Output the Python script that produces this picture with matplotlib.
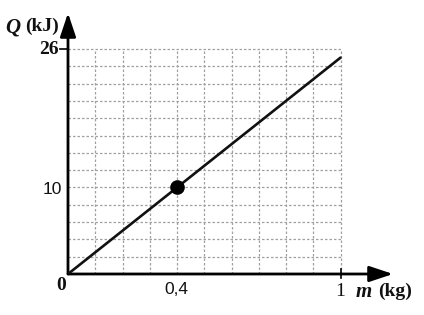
import matplotlib
matplotlib.use("Agg")
import matplotlib.pyplot as plt
import numpy as np

# ---- data ----
m_line = [0.0, 1.0]          # kg
Q_line = [0.0, 25.0]         # kJ
m_point = [0.4]
Q_point = [10.0]
x_grid = [0.1, 0.2, 0.3, 0.4, 0.5, 0.6, 0.7, 0.8, 0.9, 1.0]
y_grid = [2, 4, 6, 8, 10, 12, 14, 16, 18, 20, 22, 24, 26]
x_max_grid = 1.0
y_max_grid = 26

W, H = 424, 315
fig = plt.figure(figsize=(W / 100, H / 100), dpi=100)
fig.patch.set_facecolor("white")

# axes geometry (pixels): origin (68,274), arrow tips at x=393, y=13
ox, oy = 68, 274
px_per_x = 272.5
px_per_y = 225 / 26
xtip, ytip = 393, 13
ax = fig.add_axes([ox / W, (H - oy) / H, (xtip - ox) / W, (oy - ytip) / H])
ax.set_xlim(0, (xtip - ox) / px_per_x)
ax.set_ylim(0, (oy - ytip) / px_per_y)
ax.axis("off")

gcol = "#a0a0a0"
gls = (0, (2.0, 1.6))
ax.vlines(x_grid, 0, y_max_grid, colors=gcol, linestyles=gls, lw=0.9, zorder=1)
ax.hlines(y_grid, 0, x_max_grid, colors=gcol, linestyles=gls, lw=0.9, zorder=1)

# axes with arrows
xl = ax.get_xlim()[1]
yl = ax.get_ylim()[1]
ax.annotate("", xy=(xl, 0), xytext=(0, 0),
            arrowprops=dict(arrowstyle="-|>,head_length=0.9,head_width=0.3",
                            lw=2.0, color="black",
                            mutation_scale=16, shrinkA=0, shrinkB=0),
            annotation_clip=False, zorder=3)
ax.annotate("", xy=(0, yl), xytext=(0, 0),
            arrowprops=dict(arrowstyle="-|>,head_length=0.9,head_width=0.3",
                            lw=2.0, color="black",
                            mutation_scale=16, shrinkA=0, shrinkB=0),
            annotation_clip=False, zorder=3)

# small tick marks
ax.plot([-0.03, 0], [26, 26], color="black", lw=1.2, clip_on=False, zorder=3)
ax.plot([1, 1], [-0.5, 0.6], color="black", lw=1.2, clip_on=False, zorder=3)

# data line and point
ax.plot(m_line, Q_line, color="#111111", lw=1.9, solid_capstyle="round", zorder=4)
ax.plot(m_point, Q_point, "o", color="black", markersize=9.5, zorder=5)

def fx(x):
    return x / W

def fy(y):
    return 1 - y / H

serif = "Liberation Serif"
sans = "Liberation Sans"
tc = "#111111"

fig.text(fx(5), fy(27), "Q", family=serif, style="italic", weight="bold",
         fontsize=15, ha="left", va="center", color=tc)
fig.text(fx(59), fy(26), "(kJ)", family=serif, weight="bold", fontsize=14,
         ha="right", va="center", color=tc)
fig.text(fx(59), fy(49), "26", family=serif, weight="bold", fontsize=14,
         ha="right", va="center", color=tc)
fig.text(fx(62), fy(189), "10", family=sans, fontsize=12.5,
         ha="right", va="center", color=tc)
fig.text(fx(61), fy(285), "0", family=serif, weight="bold", fontsize=14,
         ha="center", va="center", color=tc)
fig.text(fx(176), fy(290), "0,4", family=sans, fontsize=12.5,
         ha="center", va="center", color=tc)
fig.text(fx(340), fy(291), "1", family=serif, fontsize=14,
         ha="center", va="center", color=tc)
fig.text(fx(356), fy(292), "m", family=serif, style="italic", weight="bold",
         fontsize=15, ha="left", va="center", color=tc)
fig.text(fx(412), fy(291), "(kg)", family=serif, weight="bold", fontsize=14,
         ha="right", va="center", color=tc)

fig.savefig("out.png", dpi=100, facecolor="white")
